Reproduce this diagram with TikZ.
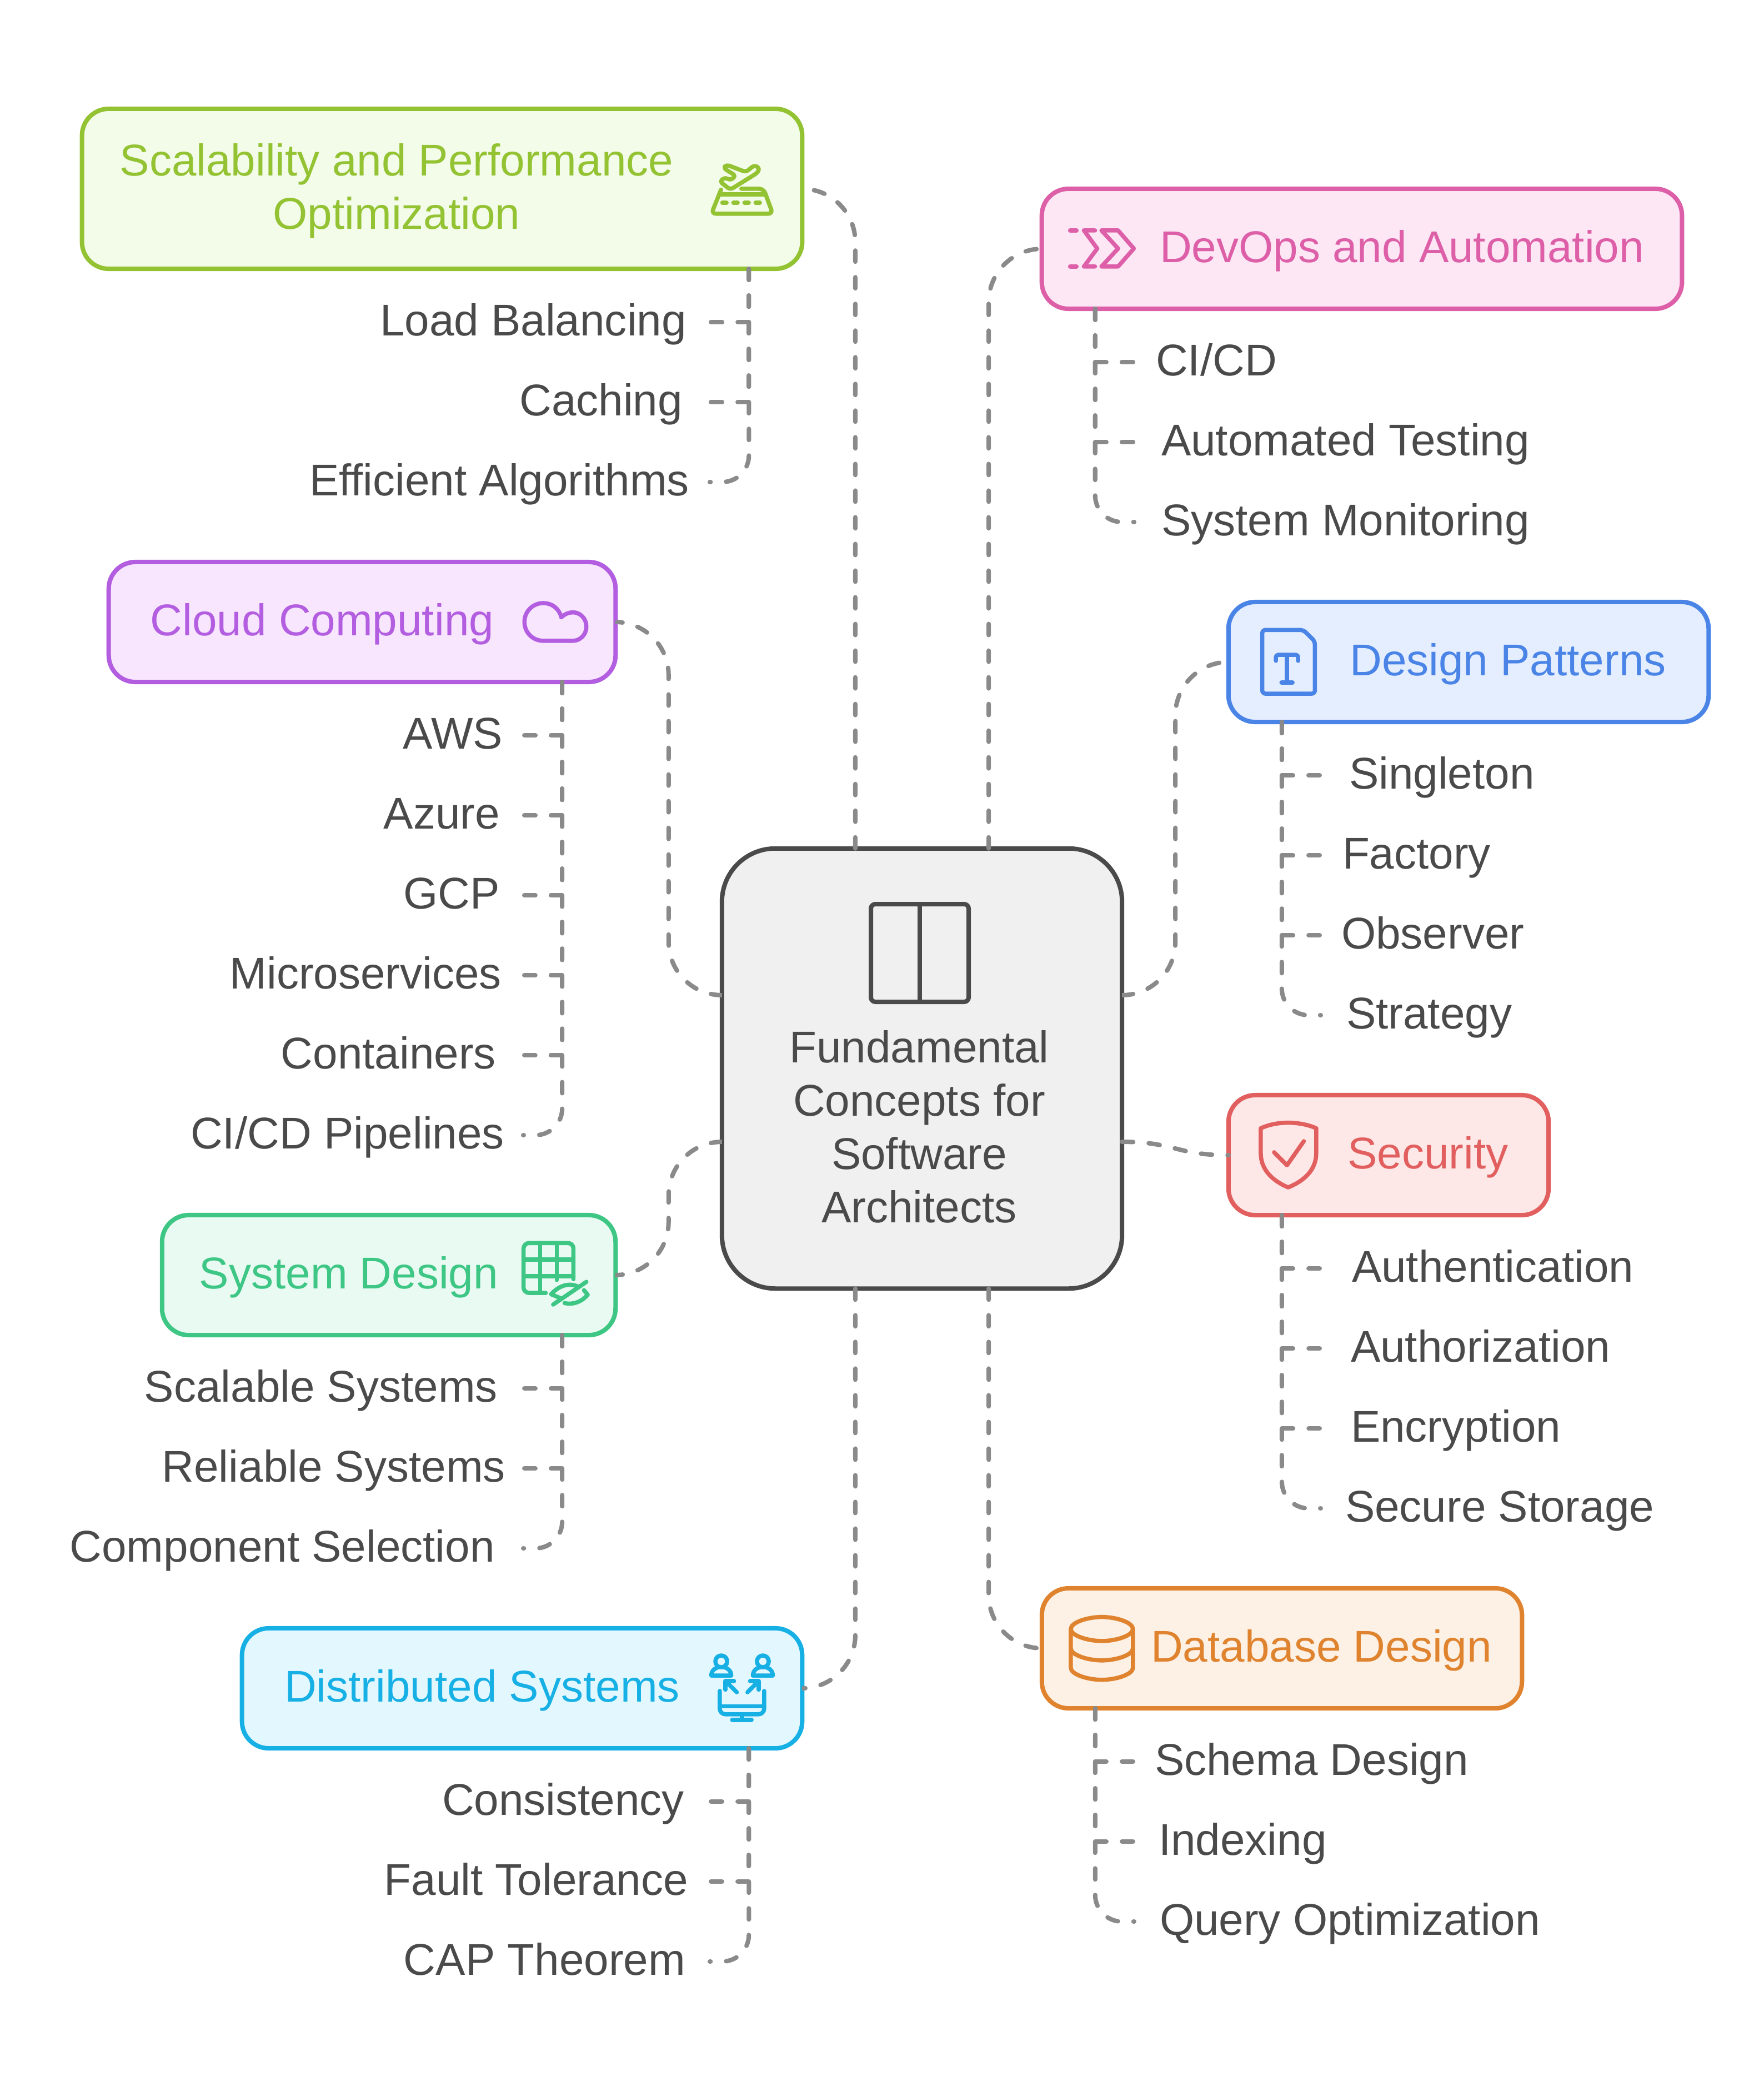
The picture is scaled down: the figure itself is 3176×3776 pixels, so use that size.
\documentclass[tikz,border=0pt]{standalone}
\usepackage{fontspec}
\setmainfont{Liberation Sans}
\usepackage{xcolor}
\usetikzlibrary{positioning,calc}
\definecolor{inkgrey}{HTML}{4A4A4A}
\definecolor{linegrey}{HTML}{8A8A8A}
\definecolor{scalcol}{HTML}{93C332}
\definecolor{scalfill}{HTML}{F3FBE9}
\definecolor{devcol}{HTML}{DD5FA8}
\definecolor{devfill}{HTML}{FDE7F5}
\definecolor{cloudcol}{HTML}{B35EE0}
\definecolor{cloudfill}{HTML}{F7E6FE}
\definecolor{patcol}{HTML}{4A84E6}
\definecolor{patfill}{HTML}{E4EEFF}
\definecolor{seccol}{HTML}{E25F5F}
\definecolor{secfill}{HTML}{FEE7E7}
\definecolor{syscol}{HTML}{3DC684}
\definecolor{sysfill}{HTML}{E8FAF2}
\definecolor{dbcol}{HTML}{E0832F}
\definecolor{dbfill}{HTML}{FDF1E6}
\definecolor{distcol}{HTML}{17B0E5}
\definecolor{distfill}{HTML}{E3F7FF}
\definecolor{centrefill}{HTML}{F0F0F0}
\tikzset{
  base font/.style={font=\fontsize{22.76}{27.32}\selectfont},
  box/.style 2 args={draw=#1,fill=#2,line width=0.08cm,rounded corners=0.48cm,
    minimum height=2.16cm,inner sep=0pt,outer sep=0pt},
  title/.style={base font,text=#1,inner sep=0pt,text height=0.56cm,text depth=0.08cm},
  item/.style={base font,text=inkgrey,inner ysep=0pt,outer sep=0pt,text height=0.56cm,text depth=0.08cm},
  itemleft/.style={item,anchor=east,inner xsep=#1},
  itemright/.style={item,anchor=west,inner xsep=#1},
  branch/.style={draw=linegrey,line width=0.08cm,line cap=round,dash pattern=on 0.2cm off 0.28cm},
  branchend/.style={branch,rounded corners=0.48cm},
  link/.style={branch,rounded corners=0.96cm},
  ico/.style={draw=#1,line width=0.075cm,line cap=round,line join=round},
  zoomed/.style={x=0.003333cm,y=-0.003333cm}
}

\begin{document}
\begin{tikzpicture}[x=0.01cm,y=-0.01cm]
    \useasboundingbox (0,0) rectangle (3176,3776);

    % Centre box
    \node[box={inkgrey}{centrefill},rounded corners=0.96cm,minimum width=7.2cm,minimum height=7.92cm] (centre) at (1660,1924) {};
    \node[base font,text=inkgrey,align=center,inner sep=0pt] (centretext) at (1655,2029) {Fundamental\\Concepts for\\Software\\Architects};

    % Topic boxes
    \node[box={scalcol}{scalfill},minimum width=12.96cm,minimum height=2.88cm] (scal) at (796,340) {};
    \node[box={devcol}{devfill},minimum width=11.52cm] (devops) at (2452,448) {};
    \node[box={cloudcol}{cloudfill},minimum width=9.12cm] (cloud) at (652,1120) {};
    \node[box={patcol}{patfill},minimum width=8.64cm] (patterns) at (2644,1192) {};
    \node[box={seccol}{secfill},minimum width=5.76cm] (security) at (2500,2080) {};
    \node[box={syscol}{sysfill},minimum width=8.16cm] (system) at (700,2296) {};
    \node[box={dbcol}{dbfill},minimum width=8.64cm] (database) at (2308,2968) {};
    \node[box={distcol}{distfill},minimum width=10.08cm] (distributed) at (940,3040) {};

    % Topic titles
    \node[base font,text=scalcol,align=center,inner sep=0pt] (scaltitle) at (714,344) {Scalability and Performance\\Optimization};
    \node[title=devcol] (devtitle) at (2524,448) {DevOps and Automation};
    \node[title=cloudcol] (cloudtitle) at (580,1120) {Cloud Computing};
    \node[title=patcol] (pattitle) at (2715,1192) {Design Patterns};
    \node[title=seccol] (sectitle) at (2571,2080) {Security};
    \node[title=syscol] (systitle) at (628,2296) {System Design};
    \node[title=dbcol] (dbtitle) at (2379,2968) {Database Design};
    \node[title=distcol] (disttitle) at (868,3040) {Distributed Systems};

    % Items, left side
    \node[itemleft=0.44cm] (load) at (1280,580) {Load Balancing};
    \node[itemleft=0.51cm] (caching) at (1280,724) {Caching};
    \node[itemleft=0.39cm] (algos) at (1280,868) {Efficient Algorithms};
    \node[itemleft=0.39cm] (aws) at (944,1324) {AWS};
    \node[itemleft=0.44cm] (azure) at (944,1468) {Azure};
    \node[itemleft=0.44cm] (gcp) at (944,1612) {GCP};
    \node[itemleft=0.41cm] (micro) at (944,1756) {Microservices};
    \node[itemleft=0.51cm] (containers) at (944,1900) {Containers};
    \node[itemleft=0.36cm] (pipelines) at (944,2044) {CI/CD Pipelines};
    \node[itemleft=0.48cm] (scalable) at (944,2500) {Scalable Systems};
    \node[itemleft=0.34cm] (reliable) at (944,2644) {Reliable Systems};
    \node[itemleft=0.53cm] (component) at (944,2788) {Component Selection};
    \node[itemleft=0.48cm] (consistency) at (1280,3244) {Consistency};
    \node[itemleft=0.41cm] (fault) at (1280,3388) {Fault Tolerance};
    \node[itemleft=0.46cm] (cap) at (1280,3532) {CAP Theorem};

    % Items, right side
    \node[itemright=0.41cm] (cicd) at (2040,652) {CI/CD};
    \node[itemright=0.51cm] (testing) at (2040,796) {Automated Testing};
    \node[itemright=0.51cm] (monitoring) at (2040,940) {System Monitoring};
    \node[itemright=0.53cm] (singleton) at (2376,1396) {Singleton};
    \node[itemright=0.41cm] (factory) at (2376,1540) {Factory};
    \node[itemright=0.39cm] (observer) at (2376,1684) {Observer};
    \node[itemright=0.48cm] (strategy) at (2376,1828) {Strategy};
    \node[itemright=0.58cm] (authn) at (2376,2284) {Authentication};
    \node[itemright=0.56cm] (authz) at (2376,2428) {Authorization};
    \node[itemright=0.56cm] (encryption) at (2376,2572) {Encryption};
    \node[itemright=0.46cm] (storage) at (2376,2716) {Secure Storage};
    \node[itemright=0.39cm] (schema) at (2040,3172) {Schema Design};
    \node[itemright=0.46cm] (indexing) at (2040,3316) {Indexing};
    \node[itemright=0.48cm] (query) at (2040,3460) {Query Optimization};

    % Links from the centre box
    \draw[link] ([xshift=-1.2cm]centre.north) |- (scal.east);
    \draw[link] ([xshift=1.2cm]centre.north) |- (devops.west);
    \draw[link] ([yshift=1.32cm]centre.west) -- ++(-96,0) |- (cloud.east);
    \draw[link] ([yshift=1.32cm]centre.east) -- ++(96,0) |- (patterns.west);
    \draw[branch] ([yshift=-1.32cm]centre.east) .. controls ++(96,0) and ($(security.west)+(-96,0)$) .. (security.west);
    \draw[link] ([yshift=-1.32cm]centre.west) -- ++(-96,0) |- (system.east);
    \draw[link] ([xshift=1.2cm]centre.south) |- (database.west);
    \draw[link] ([xshift=-1.2cm]centre.south) |- (distributed.east);

    % Branches to the items
    \draw[branch] ([xshift=5.52cm]scal.south) |- (load.east);
    \draw[branch] ([xshift=5.52cm]scal.south) |- (caching.east);
    \draw[branchend] ([xshift=5.52cm]scal.south) |- ([xshift=-0.02cm]algos.east);
    \draw[branch] ([xshift=3.6cm]cloud.south) |- (aws.east);
    \draw[branch] ([xshift=3.6cm]cloud.south) |- (azure.east);
    \draw[branch] ([xshift=3.6cm]cloud.south) |- (gcp.east);
    \draw[branch] ([xshift=3.6cm]cloud.south) |- (micro.east);
    \draw[branch] ([xshift=3.6cm]cloud.south) |- (containers.east);
    \draw[branchend] ([xshift=3.6cm]cloud.south) |- ([xshift=-0.02cm]pipelines.east);
    \draw[branch] ([xshift=3.12cm]system.south) |- (scalable.east);
    \draw[branch] ([xshift=3.12cm]system.south) |- (reliable.east);
    \draw[branchend] ([xshift=3.12cm]system.south) |- ([xshift=-0.02cm]component.east);
    \draw[branch] ([xshift=4.08cm]distributed.south) |- (consistency.east);
    \draw[branch] ([xshift=4.08cm]distributed.south) |- (fault.east);
    \draw[branchend] ([xshift=4.08cm]distributed.south) |- ([xshift=-0.02cm]cap.east);
    \draw[branch] ([xshift=-4.8cm]devops.south) |- (cicd.west);
    \draw[branch] ([xshift=-4.8cm]devops.south) |- (testing.west);
    \draw[branchend] ([xshift=-4.8cm]devops.south) |- ([xshift=0.02cm]monitoring.west);
    \draw[branch] ([xshift=-3.36cm]patterns.south) |- (singleton.west);
    \draw[branch] ([xshift=-3.36cm]patterns.south) |- (factory.west);
    \draw[branch] ([xshift=-3.36cm]patterns.south) |- (observer.west);
    \draw[branchend] ([xshift=-3.36cm]patterns.south) |- ([xshift=0.02cm]strategy.west);
    \draw[branch] ([xshift=-1.92cm]security.south) |- (authn.west);
    \draw[branch] ([xshift=-1.92cm]security.south) |- (authz.west);
    \draw[branch] ([xshift=-1.92cm]security.south) |- (encryption.west);
    \draw[branchend] ([xshift=-1.92cm]security.south) |- ([xshift=0.02cm]storage.west);
    \draw[branch] ([xshift=-3.36cm]database.south) |- (schema.west);
    \draw[branch] ([xshift=-3.36cm]database.south) |- (indexing.west);
    \draw[branchend] ([xshift=-3.36cm]database.south) |- ([xshift=0.02cm]query.west);

    % Centre icon
    \draw[ico=inkgrey,line width=0.08cm,rounded corners=0.08cm] (1568,1628) rectangle (1744,1804);
    \draw[ico=inkgrey,line width=0.08cm] (1656,1628) -- (1656,1804);

    % Scalability icon
    \begin{scope}[shift={(1200,260)},zoomed]
        \draw[ico=scalcol,rounded corners=0.05cm] (325,110) -- (430,150) -- (475,112) -- (505,130) -- (490,155) -- (345,245) -- (288,200) -- (318,178) -- (345,195) -- (375,170) -- (308,128) -- cycle;
        \draw[ico=scalcol,rounded corners=0.08cm] (295,245) -- (243,375) -- (575,375) -- (525,240) -- (405,240);
        \draw[ico=scalcol] (285,270) -- (530,270);
        \draw[ico=scalcol] (302,316) -- (325,316);
        \draw[ico=scalcol] (362,316) -- (385,316);
        \draw[ico=scalcol] (422,316) -- (445,316);
        \draw[ico=scalcol] (482,316) -- (505,316);
    \end{scope}

    % DevOps icon
    \begin{scope}[shift={(1880,380)},zoomed]
        \draw[ico=devcol] (140,105) -- (175,105);
        \draw[ico=devcol] (140,300) -- (175,300);
        \draw[ico=devcol] (275,105) -- (215,105) -- (287,203) -- (215,300) -- (275,300);
        \draw[ico=devcol] (310,105) -- (400,105) -- (485,203) -- (400,300) -- (310,300) -- (400,203) -- cycle;
    \end{scope}

    % Cloud icon
    \begin{scope}[shift={(900,1060)},zoomed]
        \draw[ico=cloudcol] (332,152) .. controls (318,105) and (280,78) .. (235,78) .. controls (178,78) and (133,123) .. (133,180) .. controls (133,237) and (178,282) .. (235,282) -- (395,282) .. controls (435,282) and (468,248) .. (468,205) .. controls (468,162) and (435,128) .. (395,128) .. controls (372,128) and (350,138) .. (332,155);
    \end{scope}

    % Design patterns icon
    \begin{scope}[shift={(2220,1100)},zoomed]
        \draw[ico=patcol,rounded corners=0.06cm] (158,103) -- (380,103) -- (443,165) -- (443,448) -- (158,448) -- cycle;
        \draw[ico=patcol,rounded corners=0.04cm] (232,270) -- (232,238) -- (352,238) -- (352,270);
        \draw[ico=patcol] (292,238) -- (292,388);
        \draw[ico=patcol] (262,388) -- (322,388);
    \end{scope}

    % Security icon
    \begin{scope}[shift={(2220,1980)},zoomed]
        \draw[ico=seccol] (150,155) .. controls (195,135) and (245,125) .. (298,125) .. controls (350,125) and (405,135) .. (450,155) -- (450,290) .. controls (450,380) and (385,440) .. (298,475) .. controls (215,440) and (150,380) .. (150,290) -- cycle;
        \draw[ico=seccol] (222,285) -- (292,355) -- (383,225);
    \end{scope}

    % System design icon
    \begin{scope}[shift={(910,2190)},zoomed]
        \draw[ico=syscol,rounded corners=0.1cm] (368,340) -- (368,145) -- (98,145) -- (98,415) -- (218,415);
        \draw[ico=syscol] (188,145) -- (188,415);
        \draw[ico=syscol] (278,145) -- (278,345);
        \draw[ico=syscol] (98,235) -- (368,235);
        \draw[ico=syscol] (98,325) -- (368,325);
        \draw[ico=syscol] (297,443) -- (247,422) .. controls (285,380) and (340,355) .. (395,382);
        \draw[ico=syscol] (438,355) -- (258,478);
        \draw[ico=syscol] (425,400) -- (445,425) .. controls (410,465) and (365,480) .. (320,470);
    \end{scope}

    % Database icon
    \begin{scope}[shift={(1890,2870)},zoomed]
        \draw[ico=dbcol] (114,190) .. controls (114,154) and (206,125) .. (282,125) .. controls (358,125) and (450,154) .. (450,190) .. controls (450,226) and (358,255) .. (282,255) .. controls (206,255) and (114,226) .. (114,190) -- cycle;
        \draw[ico=dbcol] (114,190) -- (114,400) .. controls (114,436) and (206,465) .. (282,465) .. controls (358,465) and (450,436) .. (450,400) -- (450,190);
        \draw[ico=dbcol] (114,295) .. controls (114,331) and (206,360) .. (282,360) .. controls (358,360) and (450,331) .. (450,295);
    \end{scope}

    % Distributed systems icon
    \begin{scope}[shift={(1250,2930)},zoomed]
        \draw[ico=distcol] (146,185) circle [radius=32];
        \draw[ico=distcol] (92,262) .. controls (92,232) and (118,215) .. (146,215) .. controls (174,215) and (200,232) .. (200,262) -- cycle;
        \draw[ico=distcol] (371,185) circle [radius=32];
        \draw[ico=distcol] (317,262) .. controls (317,232) and (343,215) .. (371,215) .. controls (399,215) and (425,232) .. (425,262) -- cycle;
        \draw[ico=distcol] (230,352) -- (170,292);
        \draw[ico=distcol] (168,338) -- (168,292) -- (215,292);
        \draw[ico=distcol] (288,352) -- (348,292);
        \draw[ico=distcol] (302,292) -- (348,292) -- (348,338);
        \draw[ico=distcol,rounded corners=0.1cm] (138,345) -- (138,471) -- (378,471) -- (378,345);
        \draw[ico=distcol] (138,428) -- (378,428);
        \draw[ico=distcol] (258,471) -- (258,501);
        \draw[ico=distcol] (205,501) -- (310,501);
    \end{scope}
\end{tikzpicture}
\end{document}
